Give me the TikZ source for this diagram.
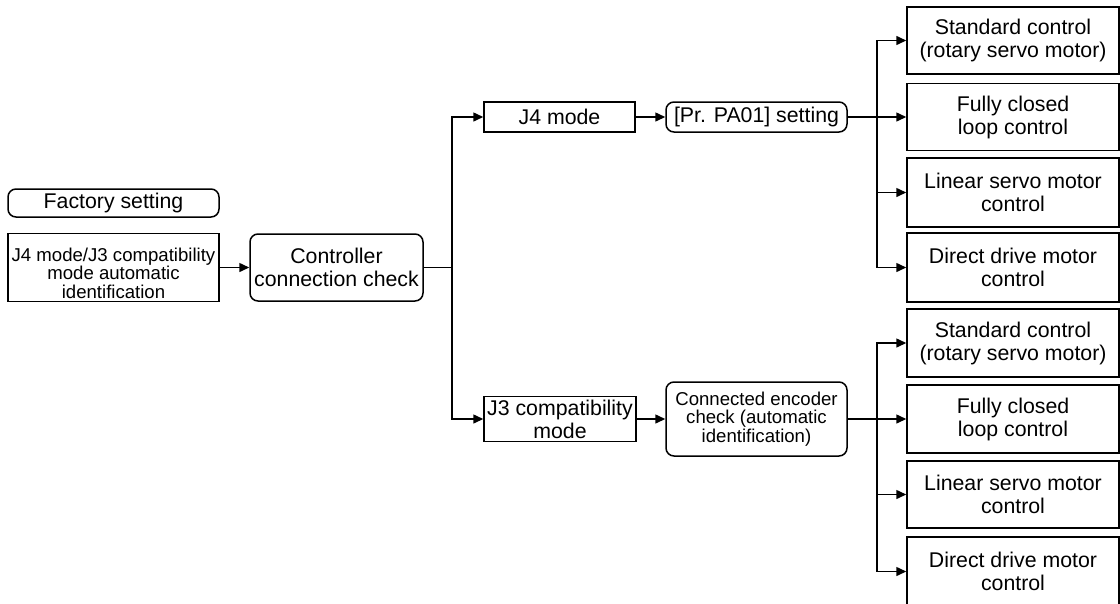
\documentclass[tikz,border=0pt]{standalone}
\usepackage{fontspec}
\setmainfont{Liberation Sans}
\usetikzlibrary{arrows.meta}
\newcommand{\bigtxt}{\fontsize{21.3}{23}\selectfont}
\newcommand{\smalltxt}{\fontsize{18.6}{18.6}\selectfont}
\tikzset{
  base/.style={draw, line width=1.5pt, inner sep=0pt, align=center, font=\bigtxt},
  sqbox/.style={base},
  rbox/.style={base, rounded corners=8pt},
  arr/.style={line width=1.5pt, -{Triangle[length=10pt,width=9pt]}},
  ln/.style={line width=1.5pt},
}
\begin{document}
\begin{tikzpicture}[x=1pt,y=-1pt]
\useasboundingbox (0,0) rectangle (1120,603);
\clip (0,0) rectangle (1120,603);
\fill[white] (0,0) rectangle (1120,603);

\node[rbox, minimum width=211pt, minimum height=28pt] (fact) at (113.5,203) {Factory setting};
\node[sqbox, minimum width=211pt, minimum height=68pt, font=\smalltxt] (jauto) at (113.5,267.5) {\rule{0pt}{25pt}J4 mode/J3 compatibility\\mode automatic\\identification};
\node[rbox, minimum width=173pt, minimum height=67pt] (ctrl) at (336.5,267.5) {Controller\\connection check};

\node[sqbox, minimum width=151pt, minimum height=30pt] (j4) at (559.5,117) {J4 mode};
\node[rbox, minimum width=181pt, minimum height=30pt] (pa) at (756.5,117) {[Pr. PA01] setting};
\node[sqbox, minimum width=152pt, minimum height=45pt] (j3) at (560,419) {J3 compatibility\\mode};
\node[rbox, minimum width=181pt, minimum height=74pt, font=\smalltxt] (enc) at (756.5,419) {Connected encoder\\check (automatic\\identification)};

\node[sqbox, minimum width=212pt, minimum height=67pt] (r1) at (1013,40.5) {Standard control\\(rotary servo motor)};
\node[sqbox, minimum width=212pt, minimum height=67pt] (r2) at (1013,117) {Fully closed\\loop control};
\node[sqbox, minimum width=212pt, minimum height=69pt] (r3) at (1013,192.5) {Linear servo motor\\control};
\node[sqbox, minimum width=212pt, minimum height=69pt] (r4) at (1013,267.5) {Direct drive motor\\control};
\node[sqbox, minimum width=212pt, minimum height=68pt] (r5) at (1013,343) {Standard control\\(rotary servo motor)};
\node[sqbox, minimum width=212pt, minimum height=68pt] (r6) at (1013,419) {Fully closed\\loop control};
\node[sqbox, minimum width=212pt, minimum height=67pt] (r7) at (1013,494.5) {Linear servo motor\\control};
\node[sqbox, minimum width=212pt, minimum height=69pt] (r8) at (1013,571.5) {Direct drive motor\\control};

\coordinate (b1) at (452,267.5);
\coordinate (b2) at (877,117);
\coordinate (b3) at (877,419);

\draw[arr] (jauto) -- (ctrl);
\draw[ln] (ctrl.east) -- (b1);
\draw[arr] (b1) |- (j4.west);
\draw[arr] (b1) |- (j3.west);
\draw[arr] (j4) -- (pa);
\draw[arr] (j3.east) -- (j3.east -| enc.west);
\draw[arr] (pa.east) -- (r2.west);
\draw[arr] (b2) |- (r1.west);
\draw[arr] (b2) |- (r3.west);
\draw[arr] (b2) |- (r4.west);
\draw[arr] (enc.east) -- (r6.west);
\draw[arr] (b3) |- (r5.west);
\draw[arr] (b3) |- (r7.west);
\draw[arr] (b3) |- (r8.west);
\end{tikzpicture}
\end{document}
